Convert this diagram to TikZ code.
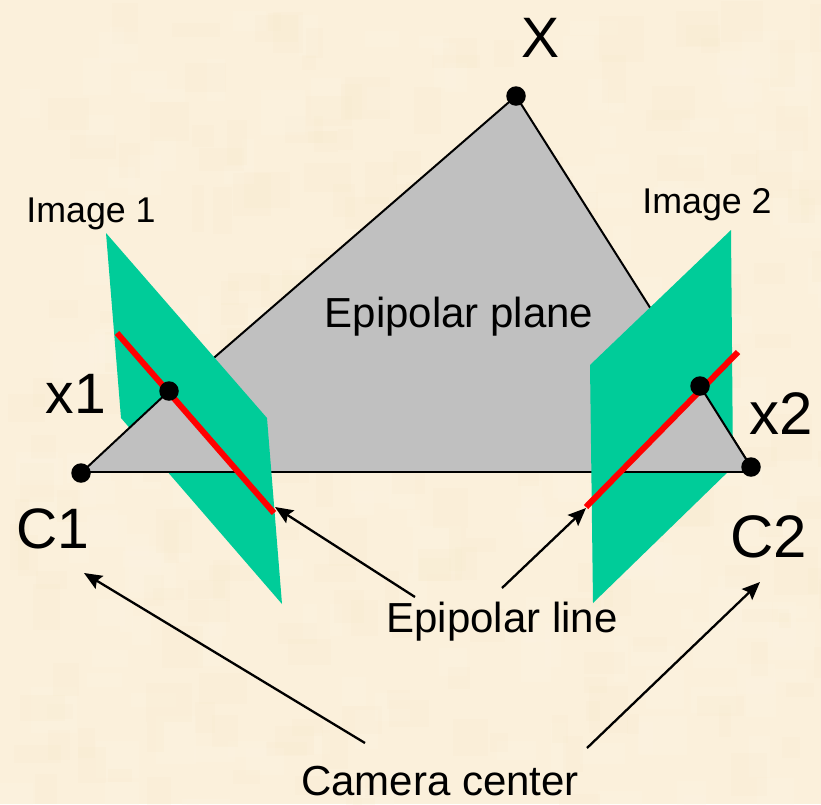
\documentclass[tikz,border=0pt]{standalone}
\usepackage{fontspec}
\setmainfont{Liberation Sans}
\usetikzlibrary{arrows.meta}
\definecolor{parch}{HTML}{FBF0DB}
\definecolor{parchlight}{HTML}{FFF6E8}
\definecolor{parchdark}{HTML}{F7EACB}
\definecolor{planegray}{HTML}{C0C0C0}
\definecolor{imggreen}{HTML}{00CC99}
\definecolor{epired}{HTML}{FF0000}
\tikzset{
  pt/.style={circle,fill=black,inner sep=0pt,minimum size=19.5pt},
  edge/.style={black,line width=2pt},
  imgplane/.style={fill=imggreen,draw=none},
  plane/.style={fill=planegray,draw=none},
  epi/.style={epired,line width=6pt},
  callout/.style={black,line width=2.3pt,-{Stealth[length=18pt,width=15pt,inset=3pt]}},
  big/.style={font=\fontsize{57}{57}\selectfont,inner sep=0pt,anchor=base},
  bigger/.style={font=\fontsize{60}{60}\selectfont,inner sep=0pt,anchor=base},
  mid/.style={font=\fontsize{42}{42}\selectfont,inner sep=0pt,anchor=base},
  small/.style={font=\fontsize{35.8}{36}\selectfont,inner sep=0pt,anchor=base}
}
\begin{document}
\begin{tikzpicture}[x=1pt,y=-1pt]
\fill[parch] (0,0) rectangle (821,804);
\useasboundingbox (0,0) rectangle (821,804);
% paper mottling
\pgfmathsetseed{4217}
\begin{scope}
\clip (0,0) rectangle (821,804);
\foreach \i in {1,...,420}{
  \pgfmathsetmacro{\bx}{random(0,821)}
  \pgfmathsetmacro{\by}{random(0,804)}
  \pgfmathsetmacro{\bw}{random(12,48)}
  \pgfmathsetmacro{\bh}{random(12,48)}
  \pgfmathsetmacro{\bc}{random(0,1)}
  \ifdim\bc pt<0.5pt
    \fill[parchlight,opacity=0.18] (\bx,\by) rectangle ++(\bw,\bh);
  \else
    \fill[parchdark,opacity=0.18] (\bx,\by) rectangle ++(\bw,\bh);
  \fi
}
\end{scope}
% key points
\coordinate (X) at (516,96);
\coordinate (C1) at (81,473);
\coordinate (C2) at (751,467);
\coordinate (x1) at (169,391);
\coordinate (x2) at (700,386);
\coordinate (baseL) at (81,472);
\coordinate (baseR) at (745,472);
\coordinate (redLa) at (117,333);
\coordinate (redLb) at (274,513);
\coordinate (redRa) at (586,507);
\coordinate (redRb) at (738,352);
\coordinate (hitL) at (239,472);
\coordinate (hitR) at (621,472);
% epipolar plane
\fill[plane] (X) -- (C1) -- (baseR) -- (C2) -- cycle;
\draw[edge] (C1) -- (X);
\draw[edge] (X) -- (C2);
\draw[edge] (baseL) -- (baseR);
% image planes
\fill[imgplane] (106,233) -- (267,418) -- (282,604) -- (121,418) -- cycle;
\fill[imgplane] (731,230) -- (733,467) -- (593,603) -- (590,365) -- cycle;
% parts of the epipolar plane in front of the image planes
\fill[plane] (C1) -- (x1) -- (hitL) -- cycle;
\fill[plane] (x2) -- (C2) -- (baseR) -- (hitR) -- cycle;
\draw[edge] (C1) -- (x1);
\draw[edge] (x2) -- (C2);
\draw[edge] (baseL) -- (hitL);
\draw[edge] (hitR) -- (baseR);
% epipolar lines
\draw[epi] (redLa) -- (redLb);
\draw[epi] (redRa) -- (redRb);
% points
\node[pt] (pX) at (X) {};
\node[pt] (pC1) at (C1) {};
\node[pt] (pC2) at (C2) {};
\node[pt] (px1) at (x1) {};
\node[pt] (px2) at (x2) {};
% labels
\node[big] (lX) at (541,57) {X};
\node[big] (lx1) at (76,413) {x1};
\node[bigger] (lx2) at (781,434) {x2};
\node[big] (lC1) at (53,548) {C1};
\node[bigger] (lC2) at (769,557) {C2};
\node[small] (lI1) at (91,222) {Image 1};
\node[small] (lI2) at (707,213) {Image 2};
\node[mid] (lEP) at (459,327) {Epipolar plane};
\node[mid] (lEL) at (502,632) {Epipolar line};
\node[mid] (lCC) at (440,795) {Camera center};
% callouts
\coordinate (aL) at (415,597);
\coordinate (aR) at (502,588);
\coordinate (cL) at (365,743);
\coordinate (cR) at (587,748);
\coordinate (tL) at (275,507);
\coordinate (tR) at (586,508);
\coordinate (tC1) at (84,573);
\coordinate (tC2) at (760,582);
\draw[callout] (aL) -- (tL);
\draw[callout] (aR) -- (tR);
\draw[callout] (cL) -- (tC1);
\draw[callout] (cR) -- (tC2);
\end{tikzpicture}
\end{document}
